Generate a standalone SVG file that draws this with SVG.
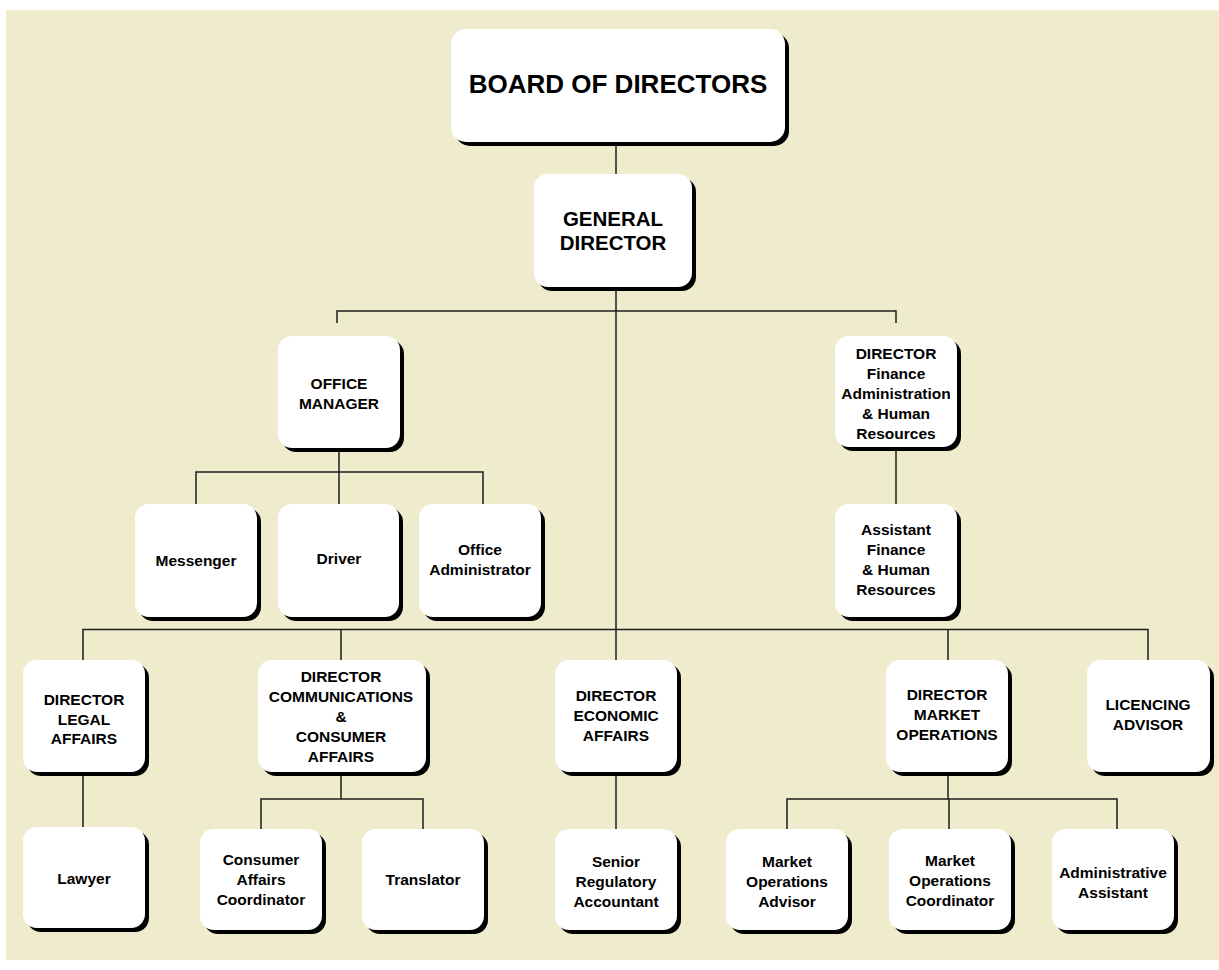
<svg xmlns="http://www.w3.org/2000/svg" width="1219" height="970" viewBox="0 0 1219 970">
<style>
.bg{fill:#EFEBCD}
.box{fill:#FFFFFF}
.sh{fill:#000000}
.ln{stroke:#1E1E1E;stroke-width:1.5;fill:none}
text{font-family:"Liberation Sans",Arial,sans-serif;font-weight:bold;fill:#000;text-anchor:middle}
.s{font-size:15.5px}
.m{font-size:20.5px}
.l{font-size:26px}
</style>
<rect x="0" y="0" width="1219" height="970" fill="#FFFFFF"/>
<rect class="bg" x="6" y="10" width="1213" height="950"/>

<g id="connectors">
<path class="ln" d="M616 142V174M616 287V660M337 323V311H896V323M339 448V504M196 504V472H483V504M896 447V504M83 660V629.5H1148V660M341 629.5V660M948 629.5V660M83 772V827M341 772V799M261 829V799H423V829M616 772V829M948 772V799M787 829V799H1117V829M949 799V829"/>
</g>

<g id="board">
<rect class="sh" x="455" y="33" width="334" height="113" rx="15"/>
<rect class="box" x="451" y="29" width="334" height="113" rx="15"/>
<text class="l" x="618" y="93">BOARD OF DIRECTORS</text>
</g>

<g id="general-director">
<rect class="sh" x="538" y="178" width="158" height="113" rx="14"/>
<rect class="box" x="534" y="174" width="158" height="113" rx="14"/>
<text class="m"><tspan x="613" y="226">GENERAL</tspan><tspan x="613" y="250">DIRECTOR</tspan></text>
</g>

<g id="office-manager">
<rect class="sh" x="282" y="340" width="122" height="112" rx="14"/>
<rect class="box" x="278" y="336" width="122" height="112" rx="14"/>
<text class="s"><tspan x="339" y="389">OFFICE</tspan><tspan x="339" y="409">MANAGER</tspan></text>
</g>

<g id="director-finance">
<rect class="sh" x="839" y="340" width="122" height="111" rx="14"/>
<rect class="box" x="835" y="336" width="122" height="111" rx="14"/>
<text class="s"><tspan x="896" y="359">DIRECTOR</tspan><tspan x="896" y="379">Finance</tspan><tspan x="896" y="399">Administration</tspan><tspan x="896" y="419">&amp; Human</tspan><tspan x="896" y="439">Resources</tspan></text>
</g>

<g id="messenger">
<rect class="sh" x="139" y="508" width="122" height="113" rx="14"/>
<rect class="box" x="135" y="504" width="122" height="113" rx="14"/>
<text class="s" x="196" y="566">Messenger</text>
</g>

<g id="driver">
<rect class="sh" x="282" y="508" width="121" height="113" rx="14"/>
<rect class="box" x="278" y="504" width="121" height="113" rx="14"/>
<text class="s" x="339" y="564">Driver</text>
</g>

<g id="office-administrator">
<rect class="sh" x="423" y="508" width="122" height="113" rx="14"/>
<rect class="box" x="419" y="504" width="122" height="113" rx="14"/>
<text class="s"><tspan x="480" y="555">Office</tspan><tspan x="480" y="575">Administrator</tspan></text>
</g>

<g id="assistant-finance">
<rect class="sh" x="839" y="508" width="122" height="113" rx="14"/>
<rect class="box" x="835" y="504" width="122" height="113" rx="14"/>
<text class="s"><tspan x="896" y="535">Assistant</tspan><tspan x="896" y="555">Finance</tspan><tspan x="896" y="575">&amp; Human</tspan><tspan x="896" y="595">Resources</tspan></text>
</g>

<g id="director-legal">
<rect class="sh" x="27" y="664" width="122" height="112" rx="14"/>
<rect class="box" x="23" y="660" width="122" height="112" rx="14"/>
<text class="s"><tspan x="84" y="705">DIRECTOR</tspan><tspan x="84" y="725">LEGAL</tspan><tspan x="84" y="744">AFFAIRS</tspan></text>
</g>

<g id="director-communications">
<rect class="sh" x="262" y="664" width="168" height="112" rx="14"/>
<rect class="box" x="258" y="660" width="168" height="112" rx="14"/>
<text class="s"><tspan x="341" y="682">DIRECTOR</tspan><tspan x="341" y="702">COMMUNICATIONS</tspan><tspan x="341" y="722">&amp;</tspan><tspan x="341" y="742">CONSUMER</tspan><tspan x="341" y="762">AFFAIRS</tspan></text>
</g>

<g id="director-economic">
<rect class="sh" x="559" y="664" width="122" height="112" rx="14"/>
<rect class="box" x="555" y="660" width="122" height="112" rx="14"/>
<text class="s"><tspan x="616" y="701">DIRECTOR</tspan><tspan x="616" y="721">ECONOMIC</tspan><tspan x="616" y="741">AFFAIRS</tspan></text>
</g>

<g id="director-market">
<rect class="sh" x="890" y="664" width="122" height="112" rx="14"/>
<rect class="box" x="886" y="660" width="122" height="112" rx="14"/>
<text class="s"><tspan x="947" y="700">DIRECTOR</tspan><tspan x="947" y="720">MARKET</tspan><tspan x="947" y="740">OPERATIONS</tspan></text>
</g>

<g id="licencing-advisor">
<rect class="sh" x="1091" y="664" width="123" height="112" rx="14"/>
<rect class="box" x="1087" y="660" width="123" height="112" rx="14"/>
<text class="s"><tspan x="1148" y="710">LICENCING</tspan><tspan x="1148" y="730">ADVISOR</tspan></text>
</g>

<g id="lawyer">
<rect class="sh" x="27" y="831" width="122" height="101" rx="14"/>
<rect class="box" x="23" y="827" width="122" height="101" rx="14"/>
<text class="s" x="84" y="884">Lawyer</text>
</g>

<g id="consumer-affairs-coordinator">
<rect class="sh" x="204" y="833" width="122" height="101" rx="14"/>
<rect class="box" x="200" y="829" width="122" height="101" rx="14"/>
<text class="s"><tspan x="261" y="865">Consumer</tspan><tspan x="261" y="885">Affairs</tspan><tspan x="261" y="905">Coordinator</tspan></text>
</g>

<g id="translator">
<rect class="sh" x="366" y="833" width="122" height="101" rx="14"/>
<rect class="box" x="362" y="829" width="122" height="101" rx="14"/>
<text class="s" x="423" y="885">Translator</text>
</g>

<g id="senior-regulatory-accountant">
<rect class="sh" x="559" y="833" width="122" height="101" rx="14"/>
<rect class="box" x="555" y="829" width="122" height="101" rx="14"/>
<text class="s"><tspan x="616" y="867">Senior</tspan><tspan x="616" y="887">Regulatory</tspan><tspan x="616" y="907">Accountant</tspan></text>
</g>

<g id="market-operations-advisor">
<rect class="sh" x="730" y="833" width="122" height="101" rx="14"/>
<rect class="box" x="726" y="829" width="122" height="101" rx="14"/>
<text class="s"><tspan x="787" y="867">Market</tspan><tspan x="787" y="887">Operations</tspan><tspan x="787" y="907">Advisor</tspan></text>
</g>

<g id="market-operations-coordinator">
<rect class="sh" x="893" y="833" width="122" height="101" rx="14"/>
<rect class="box" x="889" y="829" width="122" height="101" rx="14"/>
<text class="s"><tspan x="950" y="866">Market</tspan><tspan x="950" y="886">Operations</tspan><tspan x="950" y="906">Coordinator</tspan></text>
</g>

<g id="administrative-assistant">
<rect class="sh" x="1056" y="833" width="122" height="101" rx="14"/>
<rect class="box" x="1052" y="829" width="122" height="101" rx="14"/>
<text class="s"><tspan x="1113" y="878">Administrative</tspan><tspan x="1113" y="898">Assistant</tspan></text>
</g>
</svg>
